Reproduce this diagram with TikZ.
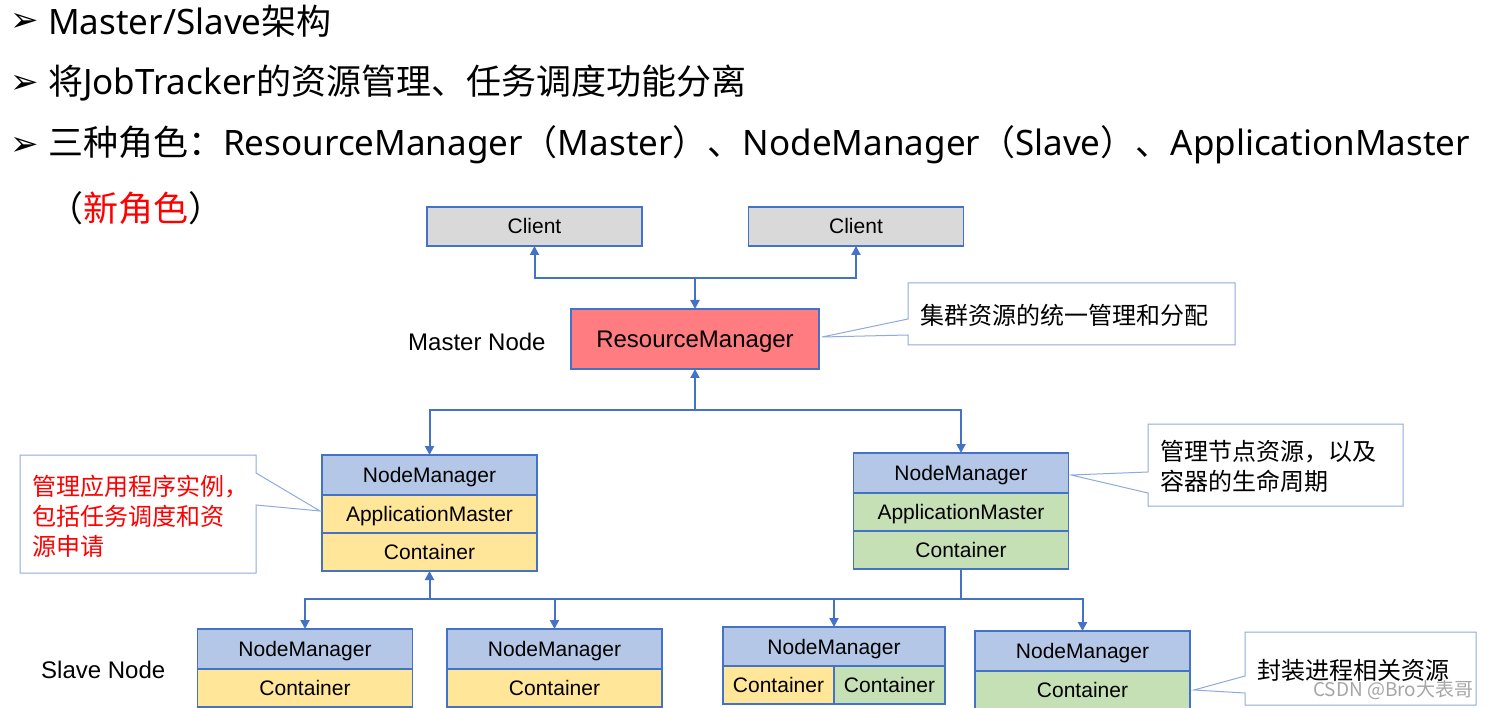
\documentclass[tikz,border=0pt]{standalone}
\usepackage{fontspec}
\setmainfont{Liberation Sans}
\newfontfamily\cjk{Noto Sans CJK SC}
\newfontfamily\hlat{Noto Sans}
\newfontfamily\symb{DejaVu Sans}
\usetikzlibrary{positioning,arrows.meta}
\definecolor{lineblue}{HTML}{4472C4}
\definecolor{callblue}{HTML}{8FAADC}
\definecolor{nmblue}{HTML}{B4C7E7}
\definecolor{amyellow}{HTML}{FFE699}
\definecolor{ctgreen}{HTML}{C5E0B4}
\definecolor{clientgray}{HTML}{D9D9D9}
\definecolor{rmred}{HTML}{FF7C80}
\definecolor{notered}{HTML}{FF0000}
\tikzset{
  box/.style={draw=lineblue, line width=1.5pt, minimum width=215pt, minimum height=38pt,
    inner sep=0pt, outer sep=0pt, text height=15pt, text depth=0pt,
    font=\fontsize{21}{25}\selectfont},
  clientbox/.style={box, fill=clientgray, minimum height=39pt},
  nmbox/.style={box, fill=nmblue, minimum height=40pt},
  ybox/.style={box, fill=amyellow},
  gbox/.style={box, fill=ctgreen},
  conn/.style={lineblue, line width=2pt},
  arr/.style={conn, -{Triangle[length=9pt,width=9pt]}},
  callout/.style={draw=callblue, fill=white, line width=1pt},
  notetext/.style={anchor=west, align=left, inner sep=0pt, font=\cjk\fontsize{24}{30}\selectfont},
  head/.style={anchor=west, inner sep=0pt, font=\cjk\fontsize{35}{40}\selectfont},
  bullet/.style={anchor=west, inner sep=0pt, font=\symb\fontsize{34}{40}\selectfont},
  side/.style={anchor=west, inner sep=0pt, font=\fontsize{24}{28}\selectfont}
}
\begin{document}
\begin{tikzpicture}[x=1pt,y=-1pt]
  \fill[white] (0,0) rectangle (1491,708);
  \useasboundingbox (0,0) rectangle (1491,708);

  % heading
  \node[bullet] (b1) at (10,22) {➢};
  \node[bullet] (b2) at (10,84) {➢};
  \node[bullet] (b3) at (10,146) {➢};
  \node[head] (h1) at (48,21) {{\hlat Master/Slave}架构};
  \node[head] (h2) at (48,83) {将{\hlat JobTracker}的资源管理、任务调度功能分离};
  \node[head] (h3) at (48,145) {三种角色：{\hlat ResourceManager}（{\hlat Master}）、{\hlat NodeManager}（{\hlat Slave}）、{\hlat ApplicationMaster}};
  \node[head] (h4) at (48,208) {（\textcolor{notered}{新角色}）};

  % master
  \node[clientbox] (client1) at (534.5,226.5) {Client};
  \node[clientbox] (client2) at (856,226.5) {Client};
  \node[box, fill=rmred, minimum width=248pt, minimum height=60pt, text height=17pt,
    font=\fontsize{24}{28}\selectfont] (rm) at (695,339) {ResourceManager};
  \node[side] (master) at (408,342) {Master Node};

  % node managers
  \node[nmbox] (nmA) at (429.5,475) {NodeManager};
  \node[ybox, below=0pt of nmA] (amA) {ApplicationMaster};
  \node[ybox, below=0pt of amA] (ctA) {Container};
  \node[nmbox] (nmB) at (961,473) {NodeManager};
  \node[gbox, below=0pt of nmB] (amB) {ApplicationMaster};
  \node[gbox, below=0pt of amB] (ctB) {Container};

  % slaves
  \node[nmbox] (nm1) at (305,649) {NodeManager};
  \node[ybox, below=0pt of nm1] (ct1) {Container};
  \node[nmbox] (nm2) at (554.5,649) {NodeManager};
  \node[ybox, below=0pt of nm2] (ct2) {Container};
  \node[nmbox, minimum width=222pt, minimum height=39pt] (nm3) at (834,646.5) {NodeManager};
  \node[ybox, minimum width=111pt, anchor=north west] (ct3a) at (nm3.south west) {Container};
  \node[gbox, minimum width=111pt, anchor=north east] (ct3b) at (nm3.south east) {Container};
  \node[nmbox] (nm4) at (1082.5,651) {NodeManager};
  \node[gbox, below=0pt of nm4] (ct4) {Container};
  \node[side] (slave) at (41,670) {Slave Node};

  % connectors
  \coordinate (jtop) at (695,278);
  \draw[arr] (jtop) -| (client1.south);
  \draw[arr] (jtop) -| (client2.south);
  \draw[arr] (jtop) -- (rm.north);
  \coordinate (jmid) at (695,410);
  \draw[arr] (jmid) -- (rm.south);
  \draw[arr] (jmid) -| (nmA.north);
  \draw[arr] (jmid) -| (nmB.north);
  \coordinate (jlow) at (429.5,599);
  \coordinate (jright) at (961,599);
  \draw[arr] (jlow) -- (ctA.south);
  \draw[arr] (jlow) -| (nm1.north);
  \draw[arr] (jlow) -| (nm2.north);
  \draw[conn] (ctB.south) -- (jright) -- (jlow);
  \draw[arr] (jright) -| (nm3.north);
  \draw[arr] (jright) -| (nm4.north);

  % callouts
  \draw[callout] (908,283) -- (908,319) -- (822,337) -- (908,335) -- (908,345)
    -- (1235,345) -- (1235,283) -- cycle;
  \node[notetext] (note1) at (920,315) {集群资源的统一管理和分配};
  \draw[callout] (20,455) -- (256,455) -- (256,473) -- (320,511) -- (256,505)
    -- (256,573) -- (20,573) -- cycle;
  \node[notetext, text=notered] (note2) at (32,516) {管理应用程序实例，\\包括任务调度和资\\源申请};
  \draw[callout] (1148,424) -- (1403,424) -- (1403,506) -- (1148,506) -- (1148,493)
    -- (1071,475) -- (1148,472) -- cycle;
  \node[notetext] (note3) at (1160,466) {管理节点资源，以及\\容器的生命周期};
  \draw[callout] (1245,632) -- (1476,632) -- (1476,705) -- (1245,705) -- (1245,693)
    -- (1194,690) -- (1245,676) -- cycle;
  \node[notetext] (note4) at (1257,670) {封装进程相关资源};
  \node[anchor=west, inner sep=0pt, text=gray!70, font=\cjk\fontsize{19}{22}\selectfont] (mark) at (1313,690) {CSDN @Bro大表哥};
\end{tikzpicture}
\end{document}
